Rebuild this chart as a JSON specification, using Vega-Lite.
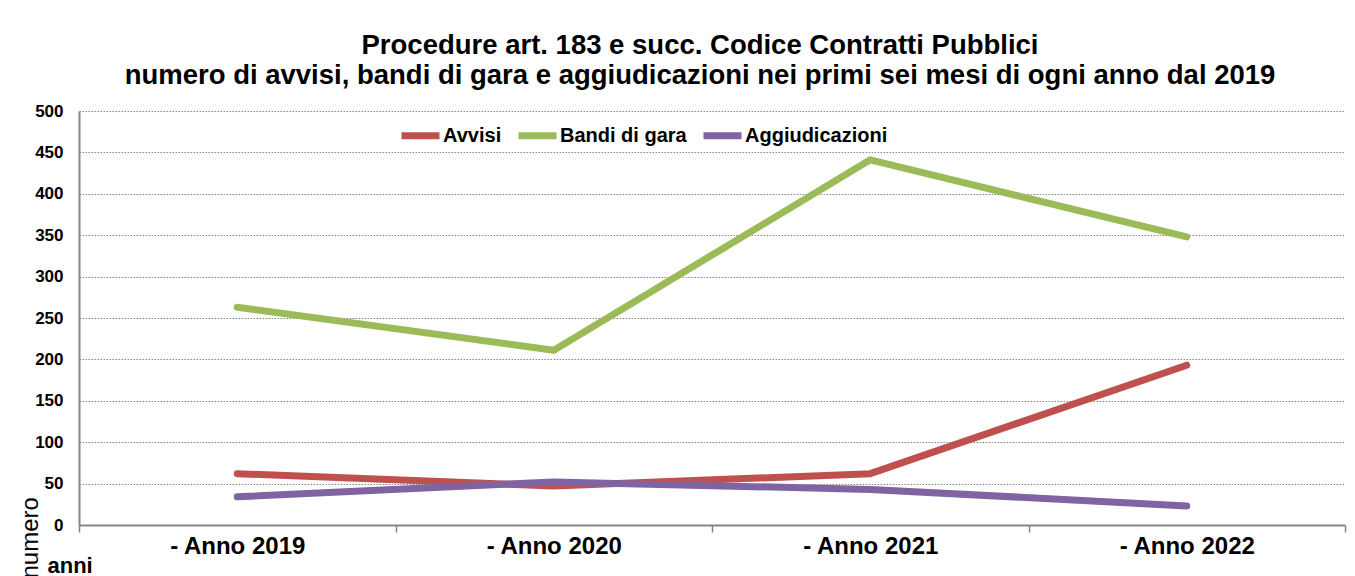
{
  "$schema": "https://vega.github.io/schema/vega-lite/v6.json",
  "width": 1266,
  "height": 414,
  "autosize": {"type": "none"},
  "padding": {"left": 79, "top": 111, "right": 10, "bottom": 51},
  "background": "white",
  "title": {
    "text": ["Procedure art. 183 e succ. Codice Contratti Pubblici", "numero di avvisi, bandi di gara e aggiudicazioni nei primi sei mesi di ogni anno dal 2019"],
    "font": "Liberation Sans",
    "fontSize": 27.5,
    "fontWeight": "bold",
    "color": "black",
    "lineHeight": 30,
    "offset": 13,
    "dx": -12,
    "anchor": "middle"
  },
  "data": {
    "values": [
      {"anno": "- Anno 2019", "serie": "Avvisi", "valore": 62},
      {"anno": "- Anno 2020", "serie": "Avvisi", "valore": 47},
      {"anno": "- Anno 2021", "serie": "Avvisi", "valore": 62},
      {"anno": "- Anno 2022", "serie": "Avvisi", "valore": 193},
      {"anno": "- Anno 2019", "serie": "Bandi di gara", "valore": 263},
      {"anno": "- Anno 2020", "serie": "Bandi di gara", "valore": 211},
      {"anno": "- Anno 2021", "serie": "Bandi di gara", "valore": 441},
      {"anno": "- Anno 2022", "serie": "Bandi di gara", "valore": 348},
      {"anno": "- Anno 2019", "serie": "Aggiudicazioni", "valore": 34},
      {"anno": "- Anno 2020", "serie": "Aggiudicazioni", "valore": 52},
      {"anno": "- Anno 2021", "serie": "Aggiudicazioni", "valore": 43},
      {"anno": "- Anno 2022", "serie": "Aggiudicazioni", "valore": 23}
    ]
  },
  "mark": {"type": "line", "strokeWidth": 7, "strokeCap": "round", "strokeJoin": "round"},
  "encoding": {
    "x": {
      "field": "anno",
      "type": "ordinal",
      "bandPosition": 0.5,
      "scale": {"type": "band", "paddingInner": 0, "paddingOuter": 0},
      "axis": {
        "title": "anni",
        "titleFont": "Liberation Sans",
        "titleFontSize": 22,
        "titleFontWeight": "bold",
        "titleColor": "black",
        "titleX": -32,
        "titleY": 47,
        "titleAlign": "left",
        "titleBaseline": "alphabetic",
        "titleAnchor": null,
        "labelAngle": 0,
        "labelFont": "Liberation Sans",
        "labelFontSize": 24,
        "labelFontWeight": "bold",
        "labelColor": "black",
        "labelPadding": 2,
        "tickBand": "extent",
        "tickSize": 7,
        "tickColor": "#868686",
        "tickWidth": 1.5,
        "domainColor": "#868686",
        "domainWidth": 2,
        "grid": false
      }
    },
    "y": {
      "field": "valore",
      "type": "quantitative",
      "scale": {"domain": [0, 500], "nice": false},
      "axis": {
        "values": [0, 50, 100, 150, 200, 250, 300, 350, 400, 450, 500],
        "title": "numero",
        "titleFont": "Liberation Sans",
        "titleFontSize": 24,
        "titleFontWeight": "normal",
        "titleColor": "black",
        "titleAngle": 270,
        "titleX": -42,
        "titleY": 467,
        "titleAlign": "left",
        "titleBaseline": "alphabetic",
        "titleAnchor": null,
        "labelFont": "Liberation Sans",
        "labelFontSize": 17,
        "labelFontWeight": "bold",
        "labelColor": "black",
        "labelPadding": 16,
        "ticks": false,
        "domainColor": "#868686",
        "domainWidth": 2,
        "grid": true,
        "gridColor": "#868686",
        "gridDash": [1.5, 1.5],
        "gridWidth": 1
      }
    },
    "color": {
      "field": "serie",
      "type": "nominal",
      "scale": {"domain": ["Avvisi", "Bandi di gara", "Aggiudicazioni"], "range": ["#C0504D", "#9BBB59", "#8064A2"]},
      "legend": {
        "title": null,
        "orient": "none",
        "direction": "horizontal",
        "legendX": 319,
        "legendY": 2,
        "symbolType": "stroke",
        "symbolSize": 1444,
        "symbolStrokeWidth": 7,
        "labelFont": "Liberation Sans",
        "labelFontSize": 20,
        "labelFontWeight": "bold",
        "labelColor": "black",
        "labelOffset": 0,
        "columnPadding": 2,
        "symbolOffset": 0
      }
    }
  },
  "config": {"view": {"stroke": null}}
}
